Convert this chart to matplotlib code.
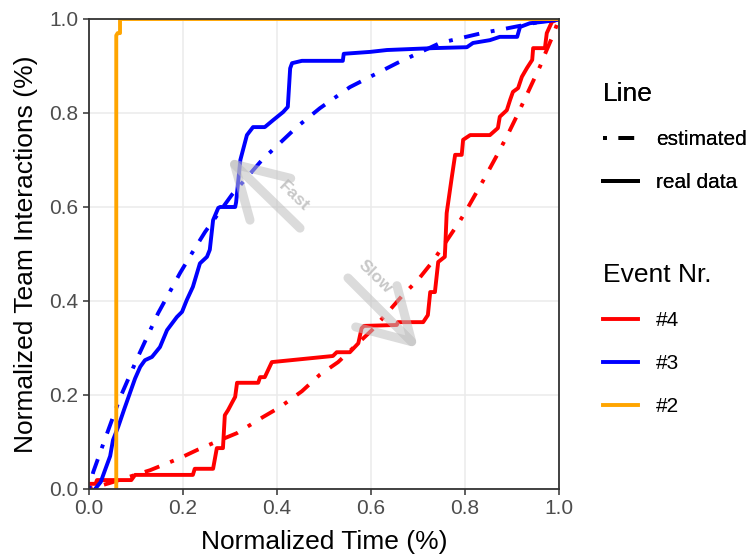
import numpy as np
import matplotlib
matplotlib.use('Agg')
import matplotlib.pyplot as plt
from matplotlib.lines import Line2D

plt.rcParams['font.family'] = ['Liberation Sans', 'DejaVu Sans']

# event #4 (red)
red_real_x = [0.0, 0.014, 0.017, 0.09, 0.098, 0.221, 0.225, 0.264, 0.272, 0.285, 0.289, 0.296,
              0.305, 0.311, 0.315, 0.36, 0.364, 0.374, 0.389, 0.449, 0.519, 0.527, 0.555, 0.573,
              0.58, 0.585, 0.655, 0.657, 0.711, 0.721, 0.726, 0.736, 0.743, 0.757, 0.758, 0.761,
              0.772, 0.779, 0.793, 0.796, 0.811, 0.853, 0.87, 0.874, 0.889, 0.896, 0.902, 0.913,
              0.921, 0.932, 0.943, 0.945, 0.970, 0.974, 0.985, 1.0]
red_real_y = [0.011, 0.011, 0.019, 0.019, 0.03, 0.03, 0.043, 0.043, 0.087, 0.087, 0.157, 0.168,
              0.185, 0.196, 0.226, 0.226, 0.238, 0.238, 0.27, 0.276, 0.283, 0.291, 0.291, 0.31,
              0.342, 0.347, 0.349, 0.355, 0.355, 0.370, 0.419, 0.419, 0.483, 0.494, 0.515, 0.587,
              0.664, 0.711, 0.711, 0.743, 0.753, 0.753, 0.768, 0.792, 0.806, 0.828, 0.845, 0.853,
              0.877, 0.896, 0.913, 0.938, 0.938, 0.97, 0.994, 1.0]
red_est_x = [0.0, 0.045, 0.13, 0.194, 0.23, 0.279, 0.315, 0.37, 0.406, 0.453, 0.491, 0.53, 0.602,
             0.634, 0.668, 0.70, 0.732, 0.789, 0.804, 0.838, 0.868, 0.889, 0.911, 0.932, 0.96,
             0.97, 0.987, 1.0]
red_est_y = [0.0, 0.013, 0.04, 0.066, 0.083, 0.104, 0.119, 0.153, 0.174, 0.208, 0.243, 0.27, 0.338,
             0.374, 0.413, 0.445, 0.485, 0.57, 0.595, 0.655, 0.71, 0.75, 0.795, 0.84, 0.9,
             0.925, 0.965, 1.0]

# event #3 (blue)
blue_real_x = [0.013, 0.025, 0.034, 0.045, 0.051, 0.062, 0.075, 0.087, 0.098, 0.109, 0.119, 0.134,
               0.151, 0.166, 0.187, 0.198, 0.208, 0.221, 0.236, 0.251, 0.257, 0.264, 0.275, 0.279,
               0.311, 0.313, 0.322, 0.336, 0.349, 0.374, 0.392, 0.413, 0.423, 0.428, 0.432, 0.453,
               0.540, 0.542, 0.598, 0.634, 0.732, 0.804, 0.817, 0.853, 0.874, 0.911, 0.917, 0.938,
               0.966, 0.996, 1.0]
blue_real_y = [0.0, 0.015, 0.04, 0.07, 0.104, 0.132, 0.17, 0.204, 0.235, 0.26, 0.274, 0.281,
               0.302, 0.338, 0.366, 0.377, 0.402, 0.43, 0.48, 0.494, 0.509, 0.572, 0.598, 0.6,
               0.6, 0.61, 0.70, 0.753, 0.77, 0.77, 0.785, 0.802, 0.813, 0.895, 0.906, 0.911,
               0.911, 0.926, 0.930, 0.934, 0.938, 0.94, 0.949, 0.955, 0.962, 0.962, 0.983, 0.991,
               0.994, 0.998, 1.0]
blue_est_x = [0.0, 0.009, 0.03, 0.066, 0.104, 0.147, 0.194, 0.221, 0.247, 0.304, 0.368, 0.442,
              0.491, 0.555, 0.655, 0.747, 0.836, 0.889, 0.95, 1.0]
blue_est_y = [0.0, 0.036, 0.095, 0.194, 0.281, 0.374, 0.46, 0.505, 0.547, 0.626, 0.70, 0.77,
              0.81, 0.855, 0.906, 0.949, 0.970, 0.98, 0.992, 1.0]

# event #2 (orange)
orange_real_x = [0.058, 0.058, 0.061, 0.066, 0.066, 1.0]
orange_real_y = [0.0, 0.965, 0.97, 0.97, 1.0, 1.0]

events = ['#4', '#3', '#2']
colors = ['#FF0000', '#0000FF', '#FFA500']

# annotation arrows: (tail, tip, label, label position)
fast_arrow = ((0.449, 0.555), (0.296, 0.704), 'Fast', (0.437, 0.622))
slow_arrow = ((0.551, 0.449), (0.70, 0.30), 'Slow', (0.608, 0.452))

lw = 2.8
dotdash = (1, 3, 4, 3)

fig = plt.figure(figsize=(7.56, 5.56), dpi=100)
ax = fig.add_axes([89 / 756, 1 - 489 / 556, 470 / 756, 470 / 556])

ax.plot(red_est_x, red_est_y, color=colors[0], lw=lw, dashes=dotdash, dash_capstyle='butt')
ax.plot(blue_est_x, blue_est_y, color=colors[1], lw=lw, dashes=dotdash, dash_capstyle='butt')
ax.plot(red_real_x, red_real_y, color=colors[0], lw=lw)
ax.plot(blue_real_x, blue_real_y, color=colors[1], lw=lw)
ax.plot(orange_real_x, orange_real_y, color=colors[2], lw=lw)

for tail, tip, label, pos in [fast_arrow, slow_arrow]:
    ax.annotate('', xy=tip, xytext=tail,
                arrowprops=dict(arrowstyle='->,head_length=3.6,head_width=2.1',
                                lw=6.5, color='#BEBEBE', alpha=0.55,
                                shrinkA=0, shrinkB=0))
    ax.text(pos[0], pos[1], label, rotation=-44, color='#BEBEBE', alpha=0.85,
            fontsize=12.5, fontweight='bold', ha='center', va='center',
            rotation_mode='anchor')

ax.set_xlim(0, 1)
ax.set_ylim(0, 1)
ticks = [0.0, 0.2, 0.4, 0.6, 0.8, 1.0]
ax.set_xticks(ticks)
ax.set_yticks(ticks)
ax.set_xticklabels(['{:.1f}'.format(t) for t in ticks])
ax.set_yticklabels(['{:.1f}'.format(t) for t in ticks])
ax.grid(True, color='#EBEBEB', lw=1.1)
ax.set_axisbelow(True)
for s in ax.spines.values():
    s.set_color('#333333')
    s.set_linewidth(1.3)
ax.tick_params(length=4.5, width=1.1, color='#333333', labelcolor='#4D4D4D',
               labelsize=15, pad=3)
ax.set_xlabel('Normalized Time (%)', fontsize=19, labelpad=8)
ax.set_ylabel('Normalized Team Interactions (%)', fontsize=19, labelpad=8)

line_handles = [Line2D([], [], color='black', lw=lw, dashes=dotdash, dash_capstyle='butt'),
                Line2D([], [], color='black', lw=lw)]
leg1 = fig.legend(line_handles, ['estimated', 'real data'], title='Line',
                  loc='upper left', bbox_to_anchor=(603 / 756, 1 - 82 / 556),
                  frameon=False, fontsize=15, title_fontsize=19, alignment='left',
                  handlelength=1.7, handletextpad=0.85, labelspacing=1.15,
                  borderpad=0, borderaxespad=0)
event_handles = [Line2D([], [], color=c, lw=lw) for c in colors]
leg2 = fig.legend(event_handles, events, title='Event Nr.',
                  loc='upper left', bbox_to_anchor=(603 / 756, 1 - 263 / 556),
                  frameon=False, fontsize=15, title_fontsize=19, alignment='left',
                  handlelength=1.7, handletextpad=0.85, labelspacing=1.15,
                  borderpad=0, borderaxespad=0)
fig.add_artist(leg1)

fig.savefig('out.png', dpi=100)
